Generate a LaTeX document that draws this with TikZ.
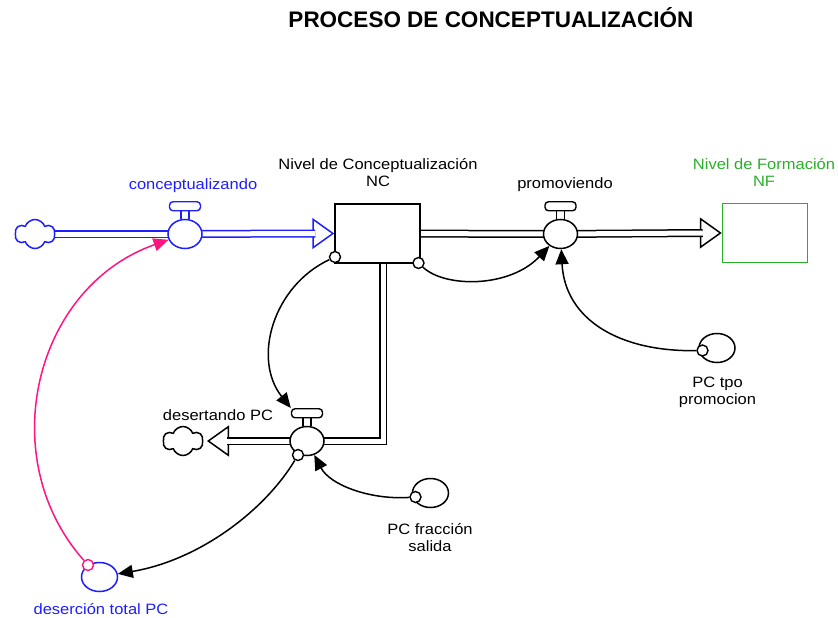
\documentclass[tikz,border=0pt]{standalone}
\usepackage{fontspec}
\setmainfont{Liberation Sans}[FakeStretch=1.1]
\newfontfamily\titlefont{Liberation Sans}
\usetikzlibrary{arrows.meta,shapes.geometric,shapes.symbols,backgrounds,positioning}
\definecolor{vblue}{RGB}{30,30,255}
\definecolor{vpink}{RGB}{255,20,130}
\definecolor{vgreen}{RGB}{40,175,40}
\tikzset{
  lbl/.style={inner sep=0pt, text depth=0pt, anchor=south, align=center, font=\fontsize{15}{17.5}\selectfont},
  stock/.style={draw, line width=1.5pt, fill=white, minimum width=85pt, minimum height=59pt},
  valve/.style={draw, ellipse, line width=1.5pt, fill=white, inner sep=0pt, minimum width=34pt, minimum height=29pt},
  aux/.style={draw, ellipse, line width=1.5pt, fill=white, inner sep=0pt, minimum width=36pt, minimum height=29pt},
  dot/.style={draw, circle, line width=1.4pt, fill=white, inner sep=0pt, minimum size=11pt},
  sky/.style={draw, cloud, cloud puffs=6, cloud puff arc=140, aspect=1.4, line width=1.5pt, fill=white, inner sep=0pt, minimum width=40pt, minimum height=29pt},
  pipe/.style={line width=1.5pt, double=white, double distance=5pt},
  pipehead/.style={line width=1.5pt, -{Triangle[fill=white, length=22pt, width=31pt]}},
  link/.style={line width=1.5pt, -{Triangle[length=15pt, width=13pt]}},
  vhandle/.pic={
    \draw[line width=1.4pt] (-4,0) -- (-4,-8) (4,0) -- (4,-8);
    \node[draw, line width=1.4pt, fill=white, rounded corners=3.5pt, minimum width=31pt, minimum height=9pt, inner sep=0pt] (-bar) at (0,-12.5) {};
  }
}
\begin{document}
\begin{tikzpicture}[x=1pt, y=-1pt]
\useasboundingbox (0,0) rectangle (838,618);
\node[anchor=base, font={\titlefont\bfseries\fontsize{22.5}{27}\selectfont}] (title) at (491,28) {PROCESO DE CONCEPTUALIZACIÓN};
% stocks
\node[stock] (NC) at (377.5,233.5) {};
\node[stock, draw=vgreen] (NF) at (765,233) {};
% clouds
\node[sky, draw=vblue] (src) at (35,234) {};
\node[sky] (sink) at (183,441) {};
% valves
\node[valve, draw=vblue] (cv) at (185,234) {};
\node[valve] (pv) at (560.5,234) {};
\node[valve] (dv) at (307,441) {};
\pic[vblue] (cvh) at (cv.north) {vhandle};
\pic (pvh) at (pv.north) {vhandle};
\pic (dvh) at (dv.north) {vhandle};
% auxiliaries
\node[aux, draw=vblue] (dt) at (99.5,577) {};
\node[aux] (fr) at (430.5,493) {};
\node[aux] (tp) at (717,348) {};
% link tails
\node[dot] (ncl) at (335,257) {};
\node[dot] (ncr) at (418.5,263) {};
\node[dot] (dvd) at (298,455) {};
\node[dot] (frd) at (415.5,497) {};
\node[dot] (tpd) at (702.5,350.5) {};
\node[dot, draw=vpink] (dtd) at (88,565) {};
% labels
\node[lbl, text=vblue] (cvl) at (193,190) {conceptualizando};
\node[lbl] (NCl) at (378,187) {Nivel de Conceptualización\\NC};
\node[lbl] (pvl) at (565,189) {promoviendo};
\node[lbl, text=vgreen] (NFl) at (764,187) {Nivel de Formación\\NF};
\node[lbl] (dvl) at (218,421) {desertando PC};
\node[lbl] (frl) at (430,552) {PC fracción\\salida};
\node[lbl] (tpl) at (717.5,405) {PC tpo\\promocion};
\node[lbl, text=vblue] (dtl) at (101,615) {deserción total PC};
% flows
\coordinate (sktip) at ([xshift=24pt]sink.center);
\coordinate (sktail) at ([xshift=47pt]sink.center);
\begin{pgfonlayer}{background}
\draw[pipe, vblue] (src.center) -- (cv.center);
\draw[pipehead, vblue] ([xshift=-22pt]NC.west) -- (NC.west);
\draw[pipe, vblue] (cv.center) -- ([xshift=-19pt]NC.west);
\draw[pipe] (NC.center) -- (pv.center);
\draw[pipehead] ([xshift=-22pt]NF.west) -- (NF.west);
\draw[pipe] (pv.center) -- ([xshift=-19pt]NF.west);
\draw[pipe] ([xshift=5.5pt]NC.center) |- (dv.center);
\draw[pipehead] (sktail) -- (sktip);
\draw[pipe] (dv.center) -- ([xshift=44pt]sink.center);
\end{pgfonlayer}
% links
\draw[link, vpink] (dtd) .. controls (-7,458) and (34,287) .. (cv);
\draw[link] (ncl) .. controls (273,286) and (252,359) .. (dvh-bar.north west);
\draw[link] (ncr) .. controls (445,288) and (510,288) .. (pv);
\draw[link] (tpd) .. controls (620,352) and (565,320) .. (pv);
\draw[link] (frd) .. controls (370,500) and (330,485) .. (dv);
\draw[link] (dvd) .. controls (265,510) and (200,560) .. (dt);
\end{tikzpicture}
\end{document}
